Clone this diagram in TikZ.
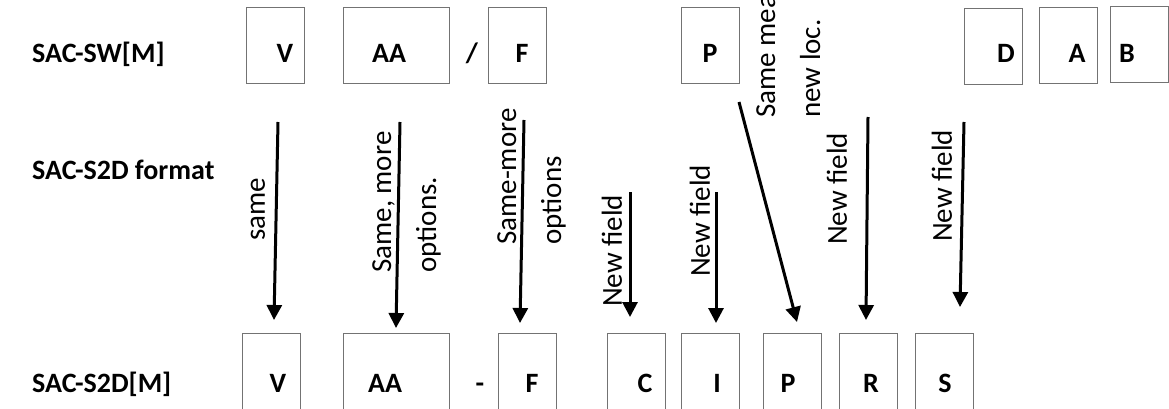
\documentclass[tikz,border=0pt]{standalone}
\usepackage{fontspec}
\setmainfont{Carlito}
\usetikzlibrary{arrows.meta}

\begin{document}
\begin{tikzpicture}[x=1pt,y=-1pt]
		
		\tikzset{fieldbox/.style = {draw=black!55,line width=0.9pt,minimum width=58pt,minimum height=76pt,inner sep=0pt,anchor=north west}}
		\tikzset{widebox/.style = {fieldbox,minimum width=106pt}}
		\tikzset{lowbox/.style = {fieldbox,minimum height=110pt}}
		\tikzset{fld/.style = {font=\fontsize{28}{34}\selectfont\bfseries,inner sep=0pt,anchor=base}}
		\tikzset{rowname/.style = {fld,anchor=base west}}
		\tikzset{note/.style = {rotate=90,font=\fontsize{29}{45}\selectfont,align=left,inner sep=0pt}}
		\tikzset{edge/.style = {-{Triangle[length=15pt,width=15pt]},line width=3pt}}
		\useasboundingbox (0,0) rectangle (1169,409);
		\clip (0,0) rectangle (1169,409);
		% row names
		\node[rowname] (sw) at (32,63) {SAC-SW[M]};
		\node[rowname] (fmt) at (32,179) {SAC-S2D format};
		\node[rowname] (sd) at (32,392) {SAC-S2D[M]};
		% top fields
		\node[fieldbox] (swV) at (246,7) {};
		\node[widebox] (swAA) at (343,7) {};
		\node[fieldbox] (swF) at (488,7) {};
		\node[fieldbox] (swP) at (681,7) {};
		\node[fieldbox] (swD) at (964,8) {};
		\node[fieldbox] (swA) at (1039,7) {};
		\node[fieldbox] (swB) at (1110,6) {};
		\node[fld] (tV) at (285,63) {V};
		\node[fld] (tAA) at (389,63) {AA};
		\node[fld] (slash) at (472,63) {/};
		\node[fld] (tF) at (522,63) {F};
		\node[fld] (tP) at (710,63) {P};
		\node[fld] (tD) at (1006,63) {D};
		\node[fld] (tA) at (1077,63) {A};
		\node[fld] (tB) at (1127,63) {B};
		% bottom fields
		\node[lowbox] (sdV) at (242,333) {};
		\node[lowbox,minimum width=106pt] (sdAA) at (343,333) {};
		\node[lowbox] (sdF) at (498,333) {};
		\node[lowbox] (sdC) at (607,333) {};
		\node[lowbox] (sdI) at (681,333) {};
		\node[lowbox] (sdP) at (763,333) {};
		\node[lowbox] (sdR) at (839,333) {};
		\node[lowbox] (sdS) at (915,333) {};
		\node[fld] (bV) at (278,392) {V};
		\node[fld] (bAA) at (385,392) {AA};
		\node[fld] (dash) at (480,392) {-};
		\node[fld] (bF) at (532,392) {F};
		\node[fld] (bC) at (645,392) {C};
		\node[fld] (bI) at (717,392) {I};
		\node[fld] (bP) at (788,392) {P};
		\node[fld] (bR) at (871,392) {R};
		\node[fld] (bS) at (945,392) {S};
		% notes
		\node[note,anchor=west] (nV) at (258,241) {same};
		\node[note,anchor=north west] (nAA) at (372,273) {Same, more\\options.};
		\node[note,anchor=north west] (nF) at (497,245) {Same-more\\options};
		\node[note,anchor=west] (nC) at (612,307) {New field};
		\node[note,anchor=west] (nI) at (700,277) {New field};
		\node[note,anchor=north west] (nP) at (756,118) {Same mea\\new loc.};
		\node[note,anchor=west] (nR) at (837,245) {New field};
		\node[note,anchor=west] (nS) at (942,242) {New field};
		% arrow ends
		\coordinate (fromV) at (278,122);   \coordinate (toV) at (274,320);
		\coordinate (fromAA) at (400,122);  \coordinate (toAA) at (396,328);
		\coordinate (fromF) at (524,120);   \coordinate (toF) at (520,323);
		\coordinate (fromC) at (630,192);   \coordinate (toC) at (630,317);
		\coordinate (fromI) at (716,192);   \coordinate (toI) at (716,323);
		\coordinate (fromP) at (739,102);   \coordinate (toP) at (797,322);
		\coordinate (fromR) at (868,117);   \coordinate (toR) at (866,320);
		\coordinate (fromS) at (964,122);   \coordinate (toS) at (960,307);
		%edges
		\draw[edge] (fromV) -- (toV);
		\draw[edge] (fromAA) -- (toAA);
		\draw[edge] (fromF) -- (toF);
		\draw[edge] (fromC) -- (toC);
		\draw[edge] (fromI) -- (toI);
		\draw[edge] (fromP) -- (toP);
		\draw[edge] (fromR) -- (toR);
		\draw[edge] (fromS) -- (toS);
		\end{tikzpicture}
\end{document}
